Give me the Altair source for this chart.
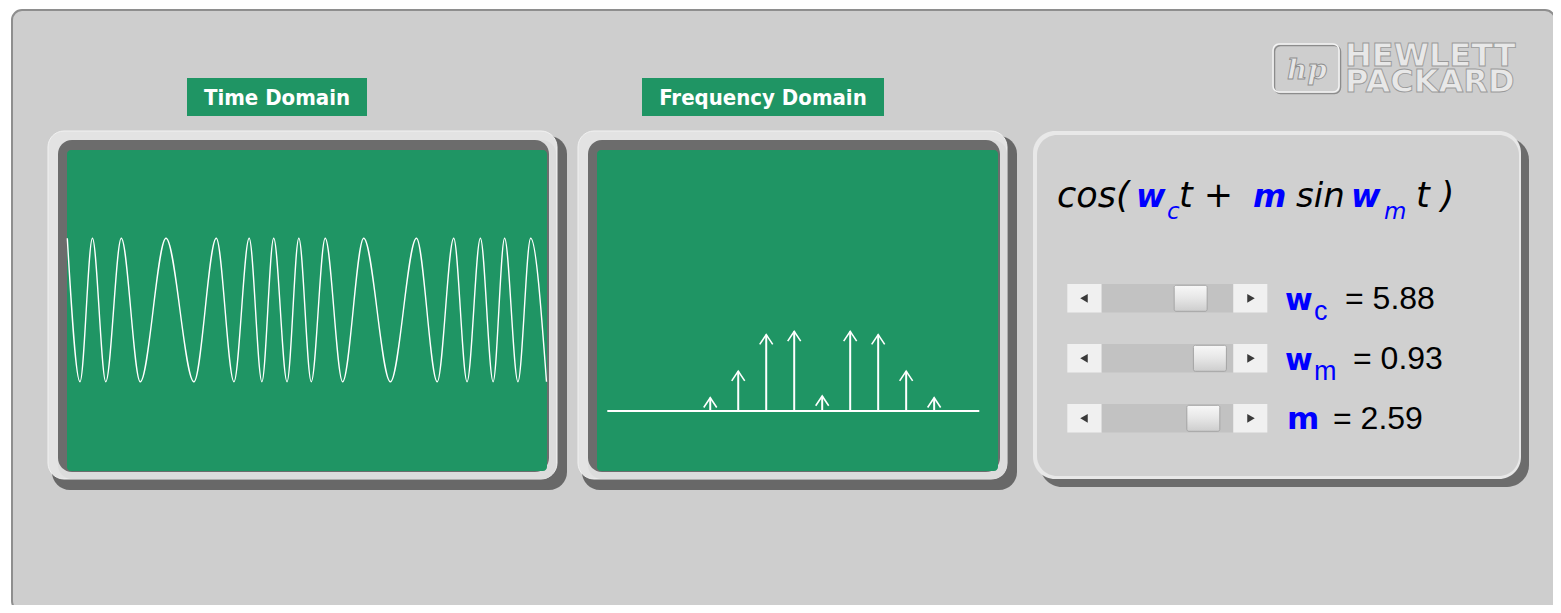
import altair as alt
import pandas as pd

# ---------------- data ----------------
# time-domain waveform: positions (t units) of successive peaks / troughs
t_ext = [0.00, 0.41, 0.81, 1.24, 1.74, 2.35, 3.18, 4.08, 4.80, 5.37,
         5.86, 6.27, 6.65, 7.08, 7.46, 7.86, 8.31, 8.87, 9.55, 10.41,
         11.25, 11.92, 12.45, 12.88, 13.31, 13.72, 14.09, 14.52, 14.93, 15.44]
amp_ext = [1, -1, 1, -1, 1, -1, 1, -1, 1, -1,
           1, -1, 1, -1, 1, -1, 1, -1, 1, -1,
           1, -1, 1, -1, 1, -1, 1, -1, 1, -1]

# frequency-domain spectral lines
freqs = [2.16, 3.09, 4.02, 4.95, 5.88, 6.81, 7.74, 8.67, 9.60]
mags = [0.08, 0.24, 0.46, 0.48, 0.09, 0.48, 0.46, 0.24, 0.08]

# slider parameters
params = ["wc", "wm", "m"]
param_vals = [5.88, 0.93, 2.59]
param_max = [8.0, 1.0, 3.0]

# ---------------- layout / style ----------------
OFF = 8
W, H = 1545, 597
BG = "#cecece"
GREEN = "#1f9564"
BLUE = "#0000ff"
dummy = pd.DataFrame({"a": [0]})


def P(v):
    return v - OFF


def box(x0, y0, x1, y1, fill, r=0, stroke=None, sw=0, opacity=1):
    kw = dict(fill=fill, cornerRadius=r, opacity=opacity)
    if stroke:
        kw.update(stroke=stroke, strokeWidth=sw)
    return alt.Chart(dummy).mark_rect(**kw).encode(
        x=alt.value(P(x0)), x2=alt.value(P(x1)),
        y=alt.value(P(y0)), y2=alt.value(P(y1)))


def txt(s, x, y, size, color="black", font="Liberation Sans", weight="normal",
        style="normal", align="left", baseline="alphabetic", stroke=None, sw=0, **extra):
    kw = dict(text=s, align=align, baseline=baseline, font=font, fontSize=size,
              fontWeight=weight, fontStyle=style, color=color, **extra)
    if stroke:
        kw.update(stroke=stroke, strokeWidth=sw)
    return alt.Chart(dummy).mark_text(**kw).encode(x=alt.value(P(x)), y=alt.value(P(y)))


def frame(x0, y0, x1, y1, gx0, gy0, gx1, gy1):
    return [
        box(x0 + 4, y0 + 5, x1, y1, "#686868", r=18),
        box(x0, y0, x1 - 10, y1 - 11, "#e3e3e3", r=16, stroke="#f2f2f2", sw=1),
        box(gx0 - 9, gy0 - 10, gx1 + 9, gy1 + 8, "#dcdcdc", r=14),
        box(gx0 - 9, gy0 - 10, gx1 + 2, gy1 + 1, "#6c6c6c", r=14),
        box(gx0, gy0, gx1, gy1, GREEN, r=4),
    ]


layers = []

# page panel
layers.append(box(12, 10, 1555, 611, BG, r=10, stroke="#8e8e8e", sw=2))

# HP logo (embossed look)
layers.append(box(1274.5, 45.5, 1340.5, 93.5, "none", r=6, stroke="#8c8c8c", sw=1.5))
layers.append(box(1273, 44, 1339, 92, "none", r=6, stroke="#f4f4f4", sw=1.5))
layers.append(txt("hp", 1287, 79, 28, "#e6e6e6", "DejaVu Serif", "bold", "italic",
                  stroke="#8e8e8e", sw=0.9))
layers.append(txt("HEWLETT\nPACKARD", 1345, 66, 32, "#e8e8e8", "DejaVu Sans", "bold",
                  stroke="#9a9a9a", sw=0.9, lineBreak="\n", lineHeight=26))

# panel titles
NARROW = "Liberation Sans Narrow, DejaVu Sans Condensed, Arial Narrow, sans-serif"
layers.append(box(187, 78, 367, 116, GREEN))
layers.append(box(642, 78, 884, 116, GREEN))
layers.append(txt("Time Domain", 277, 98, 22, "white", NARROW, "bold", align="center", baseline="middle"))
layers.append(txt("Frequency Domain", 763, 98, 22, "white", NARROW, "bold", align="center", baseline="middle"))

# display frames
layers += frame(48, 131, 567, 490, 67, 150, 547, 471)
layers += frame(578, 131, 1017, 490, 597, 150, 998, 471)

# time-domain waveform
time_df = pd.DataFrame({"t": t_ext, "v": amp_ext})
wave = alt.Chart(time_df).mark_line(color="white", strokeWidth=1.4, interpolate="monotone").encode(
    x=alt.X("t:Q", axis=None,
            scale=alt.Scale(domain=[0, 15.44], range=[P(67.3), P(546.5)], nice=False, zero=False)),
    y=alt.Y("v:Q", axis=None,
            scale=alt.Scale(domain=[-1, 1], range=[P(381.7), P(238.3)], nice=False, zero=False)),
    order="t:Q")
layers.append(wave)

# frequency-domain spectrum
spec_df = pd.DataFrame({"f": freqs, "a": mags})
fx = alt.Scale(domain=[-1.26, 11.1], range=[P(607.3), P(979.3)], nice=False, zero=False)
fy = alt.Scale(domain=[0, 1], range=[P(411), P(245)], nice=False, zero=False)
layers.append(alt.Chart(dummy).mark_rule(color="white", strokeWidth=2).encode(
    x=alt.value(P(607.3)), x2=alt.value(P(979.3)), y=alt.value(P(411))))
stems = alt.Chart(spec_df).transform_calculate(z="0").mark_rule(color="white", strokeWidth=2).encode(
    x=alt.X("f:Q", scale=fx, axis=None),
    y=alt.Y("a:Q", scale=fy, axis=None),
    y2="z:Q")
heads = alt.Chart(spec_df).mark_point(
    shape="M-1,1.5L0,0L1,1.5", filled=False, color="white", strokeWidth=1.6,
    size=169, opacity=1).encode(
    x=alt.X("f:Q", scale=fx, axis=None),
    y=alt.Y("a:Q", scale=fy, axis=None))
layers += [stems, heads]

# control panel
layers.append(box(1040, 138, 1529, 487, "#6c6c6c", r=22))
layers.append(box(1033, 131, 1521, 479, "#e8e8e8", r=22))
layers.append(box(1037, 135, 1519, 476, "#d0d0d0", r=20))

# equation
EQ = "DejaVu Sans"
layers.append(txt("cos(", 1057, 207, 35, "black", EQ, "normal", "italic"))
layers.append(txt("w", 1136, 207, 32, BLUE, EQ, "bold", "italic"))
layers.append(txt("c", 1167, 219, 23, BLUE, EQ, "normal", "italic"))
layers.append(txt("t +", 1179, 207, 35, "black", EQ, "normal", "italic"))
layers.append(txt("m", 1253, 207, 32, BLUE, EQ, "bold", "italic"))
layers.append(txt("sin", 1296, 207, 34, "black", EQ, "normal", "italic"))
layers.append(txt("w", 1351, 207, 32, BLUE, EQ, "bold", "italic"))
layers.append(txt("m", 1384, 219, 23, BLUE, EQ, "normal", "italic"))
layers.append(txt("t )", 1416, 207, 35, "black", EQ, "normal", "italic"))

# sliders
row_y = [298.3, 358.3, 418.3]
for cy in row_y:
    layers.append(box(1067.3, cy - 14.3, 1101.7, cy + 14.3, "#f0f0f0"))
    layers.append(box(1101.7, cy - 14.3, 1233.3, cy + 14.3, "#c2c2c2"))
    layers.append(box(1233.3, cy - 14.3, 1267.3, cy + 14.3, "#f0f0f0"))
    layers.append(alt.Chart(dummy).mark_point(shape="triangle-left", filled=True, color="#3a3a3a",
                                              size=75, opacity=1).encode(
        x=alt.value(P(1084)), y=alt.value(P(cy))))
    layers.append(alt.Chart(dummy).mark_point(shape="triangle-right", filled=True, color="#3a3a3a",
                                              size=75, opacity=1).encode(
        x=alt.value(P(1251)), y=alt.value(P(cy))))

slider_df = pd.DataFrame({"param": params, "val": param_vals, "vmax": param_max})
thumb_grad = alt.LinearGradient(
    gradient="linear", x1=0, x2=0, y1=0, y2=1,
    stops=[alt.GradientStop(color="#f8f8f8", offset=0),
           alt.GradientStop(color="#e6e6e6", offset=0.5),
           alt.GradientStop(color="#cdcdcd", offset=1)])
thumbs = alt.Chart(slider_df).transform_calculate(frac="datum.val / datum.vmax").mark_rect(
    fill=thumb_grad, stroke="#a4a4a4", strokeWidth=1, cornerRadius=2,
    x2Offset=33, yOffset=-13, y2Offset=13).encode(
    x=alt.X("frac:Q", axis=None,
            scale=alt.Scale(domain=[0, 1], range=[P(1101.7), P(1200.3)], nice=False, zero=False)),
    x2="frac:Q",
    y=alt.Y("param:N", axis=None,
            scale=alt.Scale(type="point", domain=params, range=[P(row_y[0]), P(row_y[2])], padding=0)),
    y2="param:N")
layers.append(thumbs)

# slider labels
layers.append(txt("w", 1285, 310, 30, BLUE, "DejaVu Sans", "bold"))
layers.append(txt("c", 1314, 320, 27, BLUE, "Liberation Sans", "normal"))
layers.append(txt("w", 1285, 370, 30, BLUE, "DejaVu Sans", "bold"))
layers.append(txt("m", 1314, 380, 27, BLUE, "Liberation Sans", "normal"))
layers.append(txt("m", 1287, 429, 31, BLUE, "DejaVu Sans", "bold"))

label_x = [1345, 1353, 1333]
label_y = [309, 369, 429]
for p, lx, ly in zip(params, label_x, label_y):
    layers.append(alt.Chart(slider_df).transform_filter(alt.datum.param == p).transform_calculate(
        label="'= ' + format(datum.val, '.2f')").mark_text(
        align="left", baseline="alphabetic", font="Liberation Sans", fontSize=32, color="black").encode(
        text="label:N", x=alt.value(P(lx)), y=alt.value(P(ly))))

chart = alt.layer(*layers).resolve_scale(x="independent", y="independent").properties(
    width=W, height=H, padding=0, autosize="none", background="white"
).configure_view(stroke=None)

chart.save("out.html", embed_options={"renderer": "svg", "actions": False})
